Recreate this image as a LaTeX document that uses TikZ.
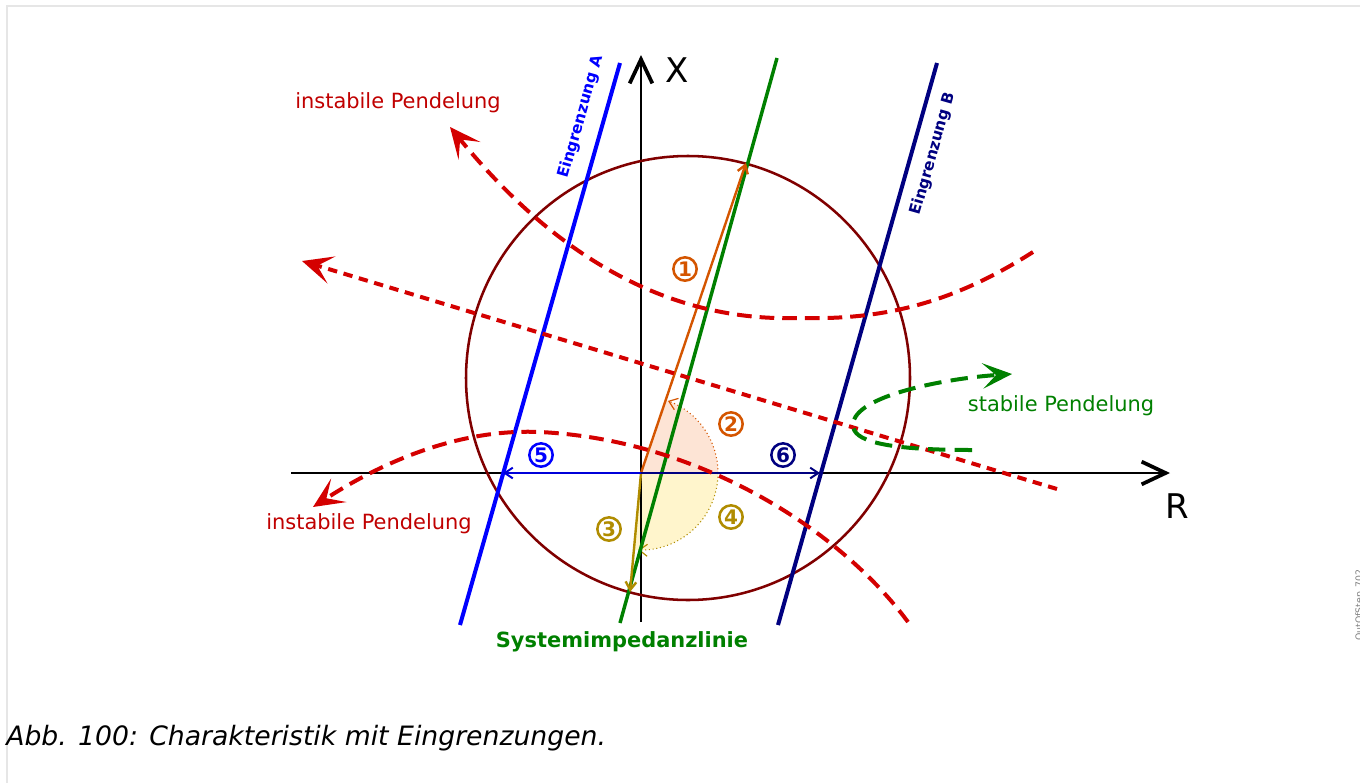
\documentclass[tikz,border=0pt]{standalone}
\usepackage{fontspec}
\setmainfont{DejaVu Sans}
\usetikzlibrary{arrows.meta,calc}
\definecolor{redd}{HTML}{D40000}
\definecolor{labred}{HTML}{C00000}
\definecolor{circ}{HTML}{800000}
\definecolor{bluA}{HTML}{0000FF}
\definecolor{navB}{HTML}{000080}
\definecolor{grn}{HTML}{008000}
\definecolor{orng}{HTML}{D45500}
\definecolor{gold}{HTML}{B08C00}
\definecolor{fillO}{HTML}{FDE4D5}
\definecolor{fillY}{HTML}{FFF5CC}
\definecolor{framegray}{HTML}{E6E6E6}
\tikzset{
  lab/.style={inner sep=0pt, font=\fontsize{15.7}{18}\selectfont},
  labb/.style={inner sep=0pt, font=\fontsize{15.7}{18}\selectfont\bfseries},
  ein/.style={inner sep=0pt, font=\fontsize{11.6}{14}\selectfont\bfseries},
  axl/.style={inner sep=0pt, font=\fontsize{25.5}{30}\selectfont},
  num/.style={circle, draw, line width=1.9pt, minimum size=17.5pt, inner sep=0pt, font=\fontsize{15}{17}\selectfont\bfseries},
  axisline/.style={black, line width=1.5pt, -{Straight Barb[length=18pt,width=17pt,line width=2.8pt]}},
  limline/.style={line width=3pt},
  reddash/.style={redd, line width=3pt, dash pattern=on 11pt off 6pt},
  reddashs/.style={redd, line width=3pt, dash pattern=on 7pt off 5pt},
  redtip/.style={-{Stealth[length=23pt,width=21pt,inset=11pt]}},
  smalltip/.style={-{Straight Barb[length=6pt,width=8pt]}},
}
\begin{document}
\begin{tikzpicture}[x=0.75pt,y=-0.75pt]
\useasboundingbox (0,0) rectangle (1360,782);
% frame
\draw[framegray, line width=1.5pt] (7,800) -- (7,6) -- (1380,6);

% coordinates
\coordinate (O) at (641,473);
\coordinate (Xb) at (641,622);
\coordinate (Xt) at (641,55);
\coordinate (Rl) at (291,473);
\coordinate (Rr) at (1170,473);
\coordinate (C) at (688,378);
\coordinate (A1) at (460,625);
\coordinate (A2) at (620,63);
\coordinate (B1) at (778,625);
\coordinate (B2) at (937,63);
\coordinate (G1) at (620,623);
\coordinate (G2) at (777,58);
\coordinate (P1) at (746,163);
\coordinate (P3) at (630,592);
\coordinate (P5) at (503,473);
\coordinate (P6) at (820,473);

% sectors
\fill[fillO] (O) -- ++(0:77) arc[start angle=0, end angle=-71.3, radius=77] -- cycle;
\fill[fillY] (O) -- ++(0:77) arc[start angle=0, end angle=95.4, radius=77] -- cycle;
\draw[orng, line width=0.8pt, dotted, -{Straight Barb[length=6pt,width=9pt,line width=0.9pt]}]
  ($(O)+(77,0)$) arc[start angle=0, end angle=-69.5, radius=77];
\draw[gold, line width=0.8pt, dotted, -{Straight Barb[length=6pt,width=9pt,line width=0.9pt]}]
  ($(O)+(77,0)$) arc[start angle=0, end angle=92, radius=77];

% axes
\draw[axisline] (Xb) -- (Xt);
\draw[axisline] (Rl) -- (Rr);

% circle
\draw[circ, line width=1.9pt] (C) circle[radius=222];

% limit lines
\draw[limline, bluA] (A1) -- (A2);
\draw[limline, navB] (B1) -- (B2);
\draw[grn, line width=2.6pt] (G1) -- (G2);

% impedance arrows
\draw[orng, line width=1.8pt, smalltip] (O) -- (P1);
\draw[gold, line width=1.8pt, smalltip] (O) -- (P3);
\draw[bluA!70!navB, line width=1.5pt, smalltip] (O) -- (P5);
\draw[navB, line width=1.5pt, smalltip] (O) -- (P6);

% red dashed curves
\coordinate (r1s) at (1033,252);
\coordinate (r1m) at (800,318);
\coordinate (r1e) at (450,127);
\draw[reddash, redtip] (r1s) .. controls (950,305) and (880,320) .. (r1m)
   .. controls (680,322) and (565,268) .. (r1e);
\coordinate (r2s) at (1057,489);
\coordinate (r2e) at (302,261);
\draw[reddashs, redtip] (r2s) -- (r2e);
\coordinate (r3s) at (908,622);
\coordinate (r3m) at (540,432);
\coordinate (r3e) at (313,507);
\draw[reddash, redtip] (r3s) .. controls (840,530) and (700,440) .. (r3m)
   .. controls (450,428) and (370,470) .. (r3e);

% green stable swing
\coordinate (g1s) at (972,450);
\coordinate (g1m) at (853,425);
\coordinate (g1e) at (1012,374);
\draw[grn, line width=3pt, dash pattern=on 13pt off 7pt, -{Stealth[length=22pt,width=19pt,inset=10pt]}]
  (g1s) .. controls (880,450) and (853,440) .. (g1m)
  .. controls (853,395) and (950,378) .. (g1e);

% labels
\node[lab, text=labred] (t1) at (398,103) {instabile Pendelung};
\node[lab, text=labred] (t2) at (369,524) {instabile Pendelung};
\node[lab, text=grn] (t3) at (1061,406) {stabile Pendelung};
\node[labb, text=grn] (t4) at (622,642) {Systemimpedanzlinie};
\node[ein, text=bluA, rotate=74.1] (eA) at (581,117) {Eingrenzung A};
\node[ein, text=navB, rotate=74.1] (eB) at (933,154) {Eingrenzung B};
\node[axl] (lX) at (677,70) {X};
\node[axl] (lR) at (1177,506) {R};

\node[num, draw=orng, text=orng] (n1) at (685,269) {1};
\node[num, draw=orng, text=orng] (n2) at (731,424) {2};
\node[num, draw=gold, text=gold] (n3) at (609,529) {3};
\node[num, draw=gold, text=gold] (n4) at (731,517) {4};
\node[num, draw=bluA, text=bluA] (n5) at (541,455) {5};
\node[num, draw=navB, text=navB] (n6) at (783,455) {6};

\node[anchor=west, inner sep=0pt, font=\fontsize{20}{24}\selectfont\itshape] (cap) at (6,738) {Abb. 100: Charakteristik mit Eingrenzungen.};
\node[anchor=north west, rotate=90, inner sep=0pt, text=gray, font=\fontsize{7}{8}\selectfont] (wm) at (1355,641) {OutOfStep\_702};
\end{tikzpicture}
\end{document}
